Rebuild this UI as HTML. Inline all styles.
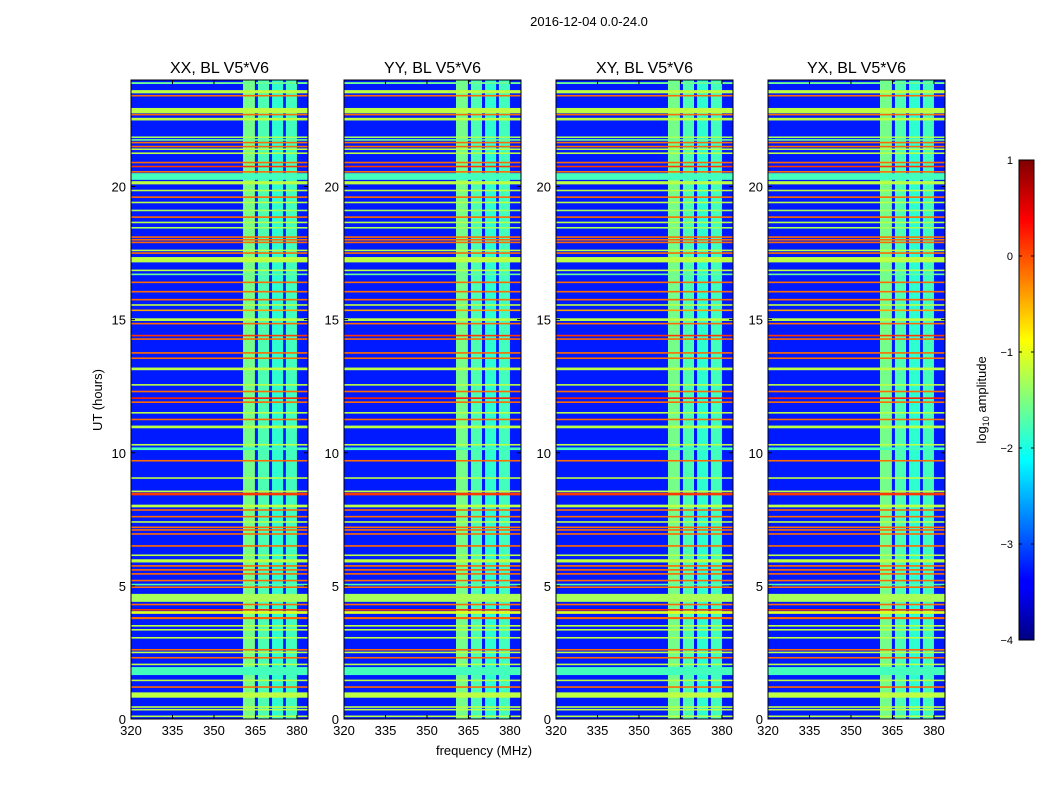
<!DOCTYPE html>
<html><head><meta charset="utf-8">
<style>
body{margin:0;background:#fff;font-family:"Liberation Sans","DejaVu Sans",sans-serif;}
svg text{font-family:"Liberation Sans","DejaVu Sans",sans-serif;}
</style></head>
<body>
<svg id="chart" width="1050" height="800" viewBox="0 0 1050 800" xmlns="http://www.w3.org/2000/svg">
<defs>
<linearGradient id="jet" x1="0" y1="1" x2="0" y2="0">
<stop offset="0" stop-color="#00007f"/><stop offset="0.11" stop-color="#0000ff"/>
<stop offset="0.125" stop-color="#0000ff"/><stop offset="0.375" stop-color="#00ffff"/>
<stop offset="0.5" stop-color="#7fff7f"/><stop offset="0.625" stop-color="#ffff00"/>
<stop offset="0.875" stop-color="#ff0000"/><stop offset="1" stop-color="#7f0000"/>
</linearGradient>
</defs>
<text x="589" y="26" font-size="13" text-anchor="middle">2016-12-04 0.0-24.0</text>
<g id="panels"></g>
<text x="484" y="755" font-size="13" text-anchor="middle">frequency (MHz)</text>
<text x="0" y="0" font-size="13" text-anchor="middle" transform="translate(102,400) rotate(-90)">UT (hours)</text>
<g id="cbar"></g>
</svg>
<script>
const panelTitles = ["XX, BL V5*V6","YY, BL V5*V6","XY, BL V5*V6","YX, BL V5*V6"];
const xTicks = [320,335,350,365,380];
const yTicks = [0,5,10,15,20];
const cbTicks = [1,0,-1,-2,-3,-4];
const backgroundValue = -3.25;
// vertical RFI bands
const bandStart = [360.5, 365.9, 371.0, 376.0];
const bandEnd   = [364.8, 369.9, 375.0, 380.0];
const bandValue = [-1.55, -1.75, -1.9, -1.8];
// horizontal rows
const rowStart = [23.85,23.5,23.38,22.75,22.67,22.48,21.82,21.72,21.62,21.47,21.37,21.22,20.87,20.72,20.52,20.25,20.08,19.82,19.57,19.37,19.07,18.82,18.62,18.42,18.07,17.97,17.87,17.57,17.47,17.15,16.82,16.67,16.37,16.02,15.72,15.52,15.32,14.95,14.82,14.37,14.24,13.72,13.52,13.1,12.52,12.27,12.02,11.87,11.47,11.22,10.92,10.27,10.1,9.67,9.02,8.52,8.4,7.95,7.82,7.57,7.37,7.17,7.07,6.92,6.47,6.12,5.88,5.72,5.57,5.42,5.17,5.02,4.92,4.4,4.27,4.07,3.95,3.75,3.47,3.32,3.02,2.57,2.47,2.27,2.02,1.65,1.42,1.17,0.8,0.42,0.32,0.07];
const rowEnd   = [23.92,23.62,23.44,22.95,22.73,22.58,21.88,21.78,21.68,21.53,21.43,21.28,20.93,20.78,20.58,20.5,20.2,19.88,19.63,19.43,19.13,18.88,18.68,18.48,18.13,18.03,17.93,17.63,17.53,17.35,16.88,16.73,16.43,16.08,15.78,15.58,15.38,15.05,14.88,14.43,14.3,13.78,13.58,13.2,12.58,12.33,12.08,11.93,11.53,11.28,11.02,10.33,10.2,9.73,9.08,8.58,8.5,8.05,7.88,7.63,7.43,7.23,7.13,6.98,6.53,6.18,6.0,5.78,5.63,5.48,5.23,5.08,4.98,4.7,4.33,4.13,4.05,3.83,3.53,3.38,3.08,2.63,2.53,2.33,2.08,1.95,1.48,1.23,1.0,0.48,0.38,0.13];
const rowValue = [-1.6,-1.2,-0.15,-1.2,-0.15,-1.2,-1.3,-1.6,-0.15,-0.15,-1.2,-1.2,-0.15,0.1,-0.15,-1.8,-1.2,-1.2,-0.15,-1.2,-1.3,-0.15,-1.2,-1.3,-0.15,-0.15,-0.15,-1.2,-0.15,-1.2,-1.2,-1.6,-0.15,-0.15,-0.15,-1.2,-0.4,-1.2,-0.15,0.1,-0.15,-0.15,-0.15,-1.2,-1.2,-0.15,0.2,-0.15,-1.2,-0.15,-1.2,-1.2,-1.8,-0.15,-1.2,-1.2,0.1,-1.2,-0.15,-0.15,-1.2,-0.15,-0.15,-0.15,-0.15,-1.2,-1.2,-0.15,-0.15,-0.15,-0.15,-1.7,-0.15,-1.3,-0.15,0.1,-1.0,-0.15,-1.2,-1.2,-1.2,-0.15,-1.2,-0.15,-1.2,-1.8,-1.2,-0.15,-1.2,-1.2,-1.2,-1.2];

const NS="http://www.w3.org/2000/svg";
const panelX=[131,344,556,768], PW=177, PT=80, PB=719;
const fMin=320, fMax=384, hMin=0, hMax=24;
function jet(v){const t=Math.max(0,Math.min(1,(v+4)/5));
 const c=x=>Math.round(255*Math.max(0,Math.min(1,x)));
 return `rgb(${c(1.5-Math.abs(4*t-3))},${c(1.5-Math.abs(4*t-2))},${c(1.5-Math.abs(4*t-1))})`;}
function yS(h){return PB-(h-hMin)/(hMax-hMin)*(PB-PT);}
function mk(tag,attrs,parent){const e=document.createElementNS(NS,tag);for(const k in attrs)e.setAttribute(k,attrs[k]);parent.appendChild(e);return e;}
const root=document.getElementById('panels');
panelTitles.forEach((title,p)=>{
 const x0=panelX[p];
 const xS=f=>x0+(f-fMin)/(fMax-fMin)*PW;
 const g=mk('g',{},root);
 
 
 const bg=mk('rect',{x:x0,y:PT,width:PW,height:PB-PT,fill:jet(backgroundValue)},g);
 
 
 bandStart.forEach((fs,i)=>{
  const r=mk('rect',{x:xS(fs),y:PT,width:xS(bandEnd[i])-xS(fs),height:PB-PT,fill:jet(bandValue[i])},g);
  
  
 });
 rowStart.forEach((hs,i)=>{
  const y1=yS(rowEnd[i]), y2=yS(hs);
  const r=mk('rect',{x:x0,y:y1,width:PW,height:Math.max(1.5,y2-y1),fill:jet(rowValue[i])},g);
  
  
 });
 mk('rect',{x:x0,y:PT,width:PW,height:PB-PT,fill:'none',stroke:'#000','stroke-width':1},g);
 const t=mk('text',{x:x0+PW/2,y:PT-7,'font-size':16,'text-anchor':'middle'},g);t.textContent=title;
 
 
 xTicks.forEach(v=>{const x=xS(v);
  mk('line',{x1:x,x2:x,y1:PB,y2:PB-4,stroke:'#000'},g);mk('line',{x1:x,x2:x,y1:PT,y2:PT+4,stroke:'#000'},g);
  const l=mk('text',{x:x,y:PB+16,'font-size':13,'text-anchor':'middle'},g);l.textContent=v;
  
  });
 yTicks.forEach(v=>{const y=yS(v);
  mk('line',{x1:x0,x2:x0+4,y1:y,y2:y,stroke:'#000'},g);mk('line',{x1:x0+PW,x2:x0+PW-4,y1:y,y2:y,stroke:'#000'},g);
  const l=mk('text',{x:x0-5,y:y+5,'font-size':13,'text-anchor':'end'},g);l.textContent=v;
  
  });
});
const cb=document.getElementById('cbar');
const CX=1019,CW=15,CT=160,CB=640;
mk('rect',{x:CX,y:CT,width:CW,height:CB-CT,fill:'url(#jet)',stroke:'#000'},cb);
cbTicks.forEach(v=>{const y=CB-(v+4)/5*(CB-CT);
 mk('line',{x1:CX,x2:CX+3,y1:y,y2:y,stroke:'#000'},cb);mk('line',{x1:CX+CW,x2:CX+CW-3,y1:y,y2:y,stroke:'#000'},cb);
 const l=mk('text',{x:1013,y:y+4,'font-size':11,'text-anchor':'end'},cb);l.textContent=v<0?'\u2212'+(-v):v;
 
 });
const cl=mk('text',{x:0,y:0,'font-size':13,'text-anchor':'middle',transform:'translate(986,400) rotate(-90)'},cb);
cl.innerHTML='log<tspan font-size="9" dy="3">10</tspan><tspan dy="-3"> amplitude</tspan>';


</script>
</body></html>
